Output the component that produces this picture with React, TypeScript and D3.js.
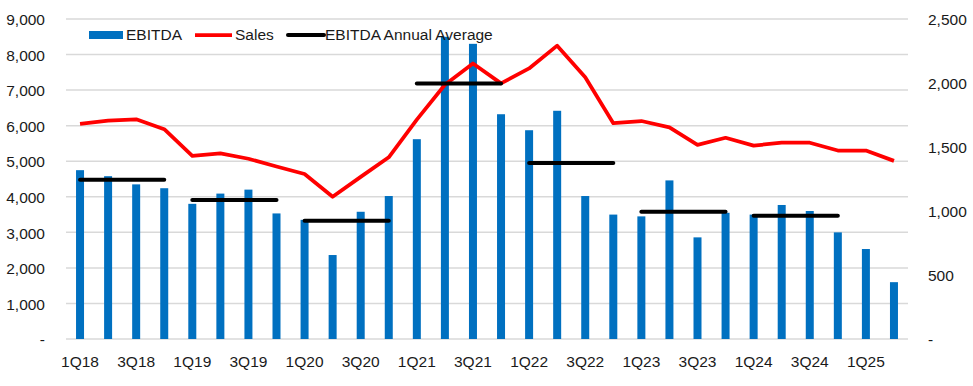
import * as d3 from "d3";
import { useRef, useEffect } from "react";

// quarters 1Q18 .. 2Q25
const quarters = [
  "1Q18", "2Q18", "3Q18", "4Q18",
  "1Q19", "2Q19", "3Q19", "4Q19",
  "1Q20", "2Q20", "3Q20", "4Q20",
  "1Q21", "2Q21", "3Q21", "4Q21",
  "1Q22", "2Q22", "3Q22", "4Q22",
  "1Q23", "2Q23", "3Q23", "4Q23",
  "1Q24", "2Q24", "3Q24", "4Q24",
  "1Q25", "2Q25",
];

// EBITDA (right axis)
const ebitda = [
  1319, 1272, 1208, 1178,
  1056, 1136, 1167, 981,
  931, 656, 994, 1117,
  1561, 2361, 2306, 1756,
  1631, 1783, 1117, 972,
  958, 1239, 794, 986,
  972, 1047, 1000, 833,
  703, 444,
];

// Sales (left axis)
const sales = [
  6050, 6140, 6180, 5900,
  5150, 5220, 5070, 4850,
  4640, 4000, 4560, 5110,
  6170, 7150, 7750, 7190,
  7610, 8250, 7360, 6070,
  6130, 5950, 5460, 5660,
  5440, 5520, 5520, 5300,
  5300, 5010,
];

const years = ["18", "19", "20", "21", "22", "23", "24"];

const leftTicks = [0, 1000, 2000, 3000, 4000, 5000, 6000, 7000, 8000, 9000];
const rightTicks = [0, 500, 1000, 1500, 2000, 2500];

const width = 973;
const height = 386;
const marginLeft = 66;
const marginRight = 65;
const marginTop = 19;
const marginBottom = 47;

const font = "'Liberation Sans', Arial, sans-serif";
const fontSize = 15.5;
const blue = "#0070c0";
const red = "#ff0000";
const grid = "#d9d9d9";

export default function App() {
  const ref = useRef<SVGSVGElement>(null);

  useEffect(() => {
    const svg = d3.select(ref.current);
    svg.selectAll("*").remove();

    const x = d3.scaleBand()
      .domain(quarters)
      .range([marginLeft, width - marginRight])
      .paddingInner(0.715)
      .paddingOuter(0.3575);

    const yLeft = d3.scaleLinear().domain([0, 9000]).range([height - marginBottom, marginTop]);
    const yRight = d3.scaleLinear().domain([0, 2500]).range([height - marginBottom, marginTop]);

    const cx = (q: string) => (x(q) as number) + x.bandwidth() / 2;
    const fmt = (v: number) => (v === 0 ? "-" : d3.format(",")(v));

    // gridlines
    svg.append("g")
      .selectAll("line")
      .data(leftTicks)
      .join("line")
        .attr("x1", marginLeft)
        .attr("x2", width - marginRight)
        .attr("y1", d => yLeft(d))
        .attr("y2", d => yLeft(d))
        .attr("stroke", grid)
        .attr("stroke-width", 1.5);

    // left axis labels
    svg.append("g")
      .attr("font-family", font)
      .attr("font-size", fontSize)
      .attr("fill", "#1a1a1a")
      .attr("text-anchor", "end")
      .selectAll("text")
      .data(leftTicks)
      .join("text")
        .attr("x", 45)
        .attr("y", d => yLeft(d))
        .attr("dy", "0.4em")
        .text(d => fmt(d));

    // right axis labels
    svg.append("g")
      .attr("font-family", font)
      .attr("font-size", fontSize)
      .attr("fill", "#1a1a1a")
      .attr("text-anchor", "start")
      .selectAll("text")
      .data(rightTicks)
      .join("text")
        .attr("x", 928)
        .attr("y", d => yRight(d))
        .attr("dy", "0.4em")
        .text(d => fmt(d));

    // x labels, every other quarter
    svg.append("g")
      .attr("font-family", font)
      .attr("font-size", fontSize)
      .attr("fill", "#1a1a1a")
      .attr("text-anchor", "middle")
      .selectAll("text")
      .data(quarters.filter((_, i) => i % 2 === 0))
      .join("text")
        .attr("x", d => cx(d))
        .attr("y", 367)
        .text(d => d);

    // EBITDA bars
    svg.append("g")
      .attr("fill", blue)
      .selectAll("rect")
      .data(quarters)
      .join("rect")
        .attr("x", d => x(d) as number)
        .attr("y", (_, i) => yRight(ebitda[i]))
        .attr("width", x.bandwidth())
        .attr("height", (_, i) => yRight(0) - yRight(ebitda[i]));

    // Sales line
    const line = d3.line<number>()
      .x((_, i) => cx(quarters[i]))
      .y(d => yLeft(d));

    svg.append("path")
      .datum(sales)
      .attr("fill", "none")
      .attr("stroke", red)
      .attr("stroke-width", 3.75)
      .attr("stroke-linejoin", "round")
      .attr("d", line);

    // EBITDA annual averages
    const averages = years.map(yr => {
      const qs = quarters.filter(q => q.endsWith(yr));
      const vals = qs.map(q => ebitda[quarters.indexOf(q)]);
      return { first: qs[0], last: qs[qs.length - 1], avg: d3.mean(vals) as number };
    });

    svg.append("g")
      .attr("stroke", "#000")
      .attr("stroke-width", 4)
      .attr("stroke-linecap", "round")
      .selectAll("line")
      .data(averages)
      .join("line")
        .attr("x1", d => cx(d.first))
        .attr("x2", d => cx(d.last))
        .attr("y1", d => yRight(d.avg))
        .attr("y2", d => yRight(d.avg));

    // legend
    const legend = svg.append("g")
      .attr("font-family", font)
      .attr("font-size", fontSize)
      .attr("fill", "#1a1a1a");

    legend.append("rect")
      .attr("x", 89).attr("y", 31).attr("width", 34).attr("height", 8)
      .attr("fill", blue);
    legend.append("text").attr("x", 126).attr("y", 40).text("EBITDA");

    legend.append("line")
      .attr("x1", 195).attr("x2", 232).attr("y1", 35).attr("y2", 35)
      .attr("stroke", red).attr("stroke-width", 3.75);
    legend.append("text").attr("x", 235).attr("y", 40).text("Sales");

    legend.append("line")
      .attr("x1", 288).attr("x2", 324).attr("y1", 35).attr("y2", 35)
      .attr("stroke", "#000").attr("stroke-width", 4).attr("stroke-linecap", "round");
    legend.append("text").attr("x", 325).attr("y", 40).text("EBITDA Annual Average");
  }, []);

  return (
    <svg
      ref={ref}
      width={width}
      height={height}
      viewBox={`0 0 ${width} ${height}`}
      style={{ position: "absolute", left: 0, top: 0, background: "#fff" }}
    />
  );
}
